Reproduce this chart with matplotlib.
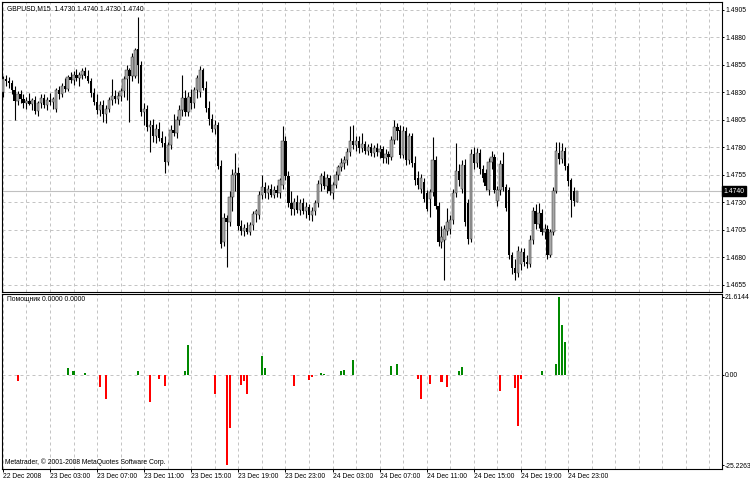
import numpy as np
import matplotlib.pyplot as plt

#font: Arial-like sans for the small MetaTrader labels, DejaVu as fallback
plt.rcParams['font.family'] = ['Liberation Sans', 'DejaVu Sans']

#GBPUSD M15 bars, 22 Dec 2008 23:00 ... 24 Dec 2008 23:45
opens = [1.4830, 1.4842, 1.4840, 1.4838, 1.4832, 1.4822, 1.4828, 1.4824, 1.4820, 1.4822,
         1.4819, 1.4823, 1.4813, 1.4820, 1.4825, 1.4818, 1.4823, 1.4821, 1.4815, 1.4832,
         1.4828, 1.4836, 1.4833, 1.4844, 1.4841, 1.4846, 1.4843, 1.4846, 1.4849, 1.4845,
         1.4840, 1.4829, 1.4821, 1.4814, 1.4818, 1.4810, 1.4815, 1.4823, 1.4827, 1.4824,
         1.4827, 1.4831, 1.4842, 1.4850, 1.4845, 1.4845, 1.4869, 1.4855, 1.4812, 1.4815,
         1.4798, 1.4800, 1.4790, 1.4797, 1.4788, 1.4784, 1.4767, 1.4782, 1.4796, 1.4793,
         1.4805, 1.4814, 1.4825, 1.4812, 1.4826, 1.4820, 1.4832, 1.4830, 1.4850, 1.4834,
         1.4816, 1.4806, 1.4797, 1.4800, 1.4763, 1.4694, 1.4716, 1.4712, 1.4735, 1.4755,
         1.4757, 1.4708, 1.4704, 1.4707, 1.4703, 1.4709, 1.4719, 1.4718, 1.4737, 1.4744,
         1.4738, 1.4742, 1.4737, 1.4741, 1.4738, 1.4746, 1.4786, 1.4754, 1.4729, 1.4724,
         1.4730, 1.4723, 1.4729, 1.4722, 1.4726, 1.4718, 1.4722, 1.4729, 1.4747, 1.4754,
         1.4745, 1.4752, 1.4738, 1.4746, 1.4755, 1.4762, 1.4766, 1.4768, 1.4776, 1.4786,
         1.4782, 1.4786, 1.4779, 1.4783, 1.4777, 1.4780, 1.4775, 1.4779, 1.4776, 1.4778,
         1.4770, 1.4774, 1.4771, 1.4787, 1.4798, 1.4796, 1.4773, 1.4795, 1.4768, 1.4790,
         1.4766, 1.4752, 1.4742, 1.4748, 1.4738, 1.4733, 1.4739, 1.4768, 1.4727, 1.4694,
         1.4696, 1.4704, 1.4706, 1.4714, 1.4738, 1.4758, 1.4742, 1.4764, 1.4729, 1.4697,
         1.4774, 1.4766, 1.4775, 1.4760, 1.4757, 1.4741, 1.4767, 1.4771, 1.4731, 1.4741,
         1.4765, 1.4744, 1.4741, 1.4682, 1.4670, 1.4666, 1.4674, 1.4685, 1.4676, 1.4674,
         1.4696, 1.4722, 1.4710, 1.4720, 1.4703, 1.4706, 1.4682, 1.4703, 1.4740, 1.4775,
         1.4769, 1.4777, 1.4763, 1.4750, 1.4740, 1.4730]
highs = [1.4845, 1.4846, 1.4844, 1.4841, 1.4836, 1.4831, 1.4832, 1.4828, 1.4826, 1.4829,
         1.4825, 1.4827, 1.4822, 1.4828, 1.4828, 1.4826, 1.4829, 1.4826, 1.4834, 1.4836,
         1.4838, 1.4843, 1.4846, 1.4848, 1.4849, 1.4851, 1.4848, 1.4852, 1.4853, 1.4850,
         1.4843, 1.4834, 1.4828, 1.4822, 1.4823, 1.4818, 1.4826, 1.4842, 1.4832, 1.4830,
         1.4834, 1.4845, 1.4855, 1.4852, 1.4866, 1.4870, 1.4898, 1.4858, 1.4820, 1.4818,
         1.4805, 1.4806, 1.4801, 1.4803, 1.4795, 1.4790, 1.4785, 1.4800, 1.4810, 1.4808,
         1.4818, 1.4846, 1.4832, 1.4830, 1.4833, 1.4835, 1.4846, 1.4854, 1.4852, 1.4840,
         1.4822, 1.4810, 1.4805, 1.4803, 1.4768, 1.4720, 1.4718, 1.4740, 1.4760, 1.4775,
         1.4762, 1.4714, 1.4710, 1.4712, 1.4712, 1.4722, 1.4724, 1.4740, 1.4755, 1.4748,
         1.4746, 1.4747, 1.4745, 1.4746, 1.4752, 1.4799, 1.4790, 1.4758, 1.4740, 1.4734,
         1.4737, 1.4733, 1.4734, 1.4730, 1.4728, 1.4726, 1.4732, 1.4750, 1.4757, 1.4758,
         1.4756, 1.4755, 1.4748, 1.4758, 1.4764, 1.4770, 1.4772, 1.4779, 1.4799, 1.4800,
         1.4790, 1.4790, 1.4793, 1.4786, 1.4783, 1.4784, 1.4782, 1.4784, 1.4782, 1.4781,
         1.4778, 1.4777, 1.4790, 1.4805, 1.4802, 1.4800, 1.4799, 1.4798, 1.4793, 1.4793,
         1.4772, 1.4758, 1.4756, 1.4752, 1.4741, 1.4742, 1.4789, 1.4772, 1.4730, 1.4708,
         1.4709, 1.4725, 1.4718, 1.4742, 1.4784, 1.4765, 1.4768, 1.4769, 1.4733, 1.4778,
         1.4780, 1.4779, 1.4778, 1.4764, 1.4760, 1.4770, 1.4777, 1.4774, 1.4745, 1.4768,
         1.4776, 1.4747, 1.4744, 1.4685, 1.4678, 1.4690, 1.4688, 1.4688, 1.4682, 1.4700,
         1.4726, 1.4728, 1.4729, 1.4724, 1.4710, 1.4709, 1.4706, 1.4744, 1.4785, 1.4785,
         1.4784, 1.4780, 1.4766, 1.4752, 1.4744, 1.4740]
lows = [1.4826, 1.4836, 1.4834, 1.4828, 1.4805, 1.4818, 1.4820, 1.4816, 1.4815, 1.4818,
        1.4814, 1.4810, 1.4808, 1.4816, 1.4816, 1.4814, 1.4818, 1.4815, 1.4812, 1.4824,
        1.4826, 1.4830, 1.4831, 1.4838, 1.4837, 1.4840, 1.4836, 1.4842, 1.4843, 1.4838,
        1.4826, 1.4818, 1.4810, 1.4808, 1.4803, 1.4802, 1.4812, 1.4818, 1.4820, 1.4819,
        1.4822, 1.4826, 1.4823, 1.4803, 1.4840, 1.4843, 1.4838, 1.4808, 1.4800, 1.4795,
        1.4776, 1.4785, 1.4784, 1.4786, 1.4780, 1.4757, 1.4764, 1.4778, 1.4790, 1.4788,
        1.4800, 1.4808, 1.4808, 1.4808, 1.4815, 1.4816, 1.4825, 1.4826, 1.4832, 1.4812,
        1.4800, 1.4794, 1.4792, 1.4760, 1.4688, 1.4690, 1.4671, 1.4708, 1.4722, 1.4740,
        1.4705, 1.4700, 1.4699, 1.4701, 1.4700, 1.4705, 1.4712, 1.4715, 1.4733, 1.4734,
        1.4733, 1.4735, 1.4734, 1.4735, 1.4734, 1.4742, 1.4750, 1.4726, 1.4718, 1.4718,
        1.4720, 1.4718, 1.4719, 1.4716, 1.4714, 1.4713, 1.4718, 1.4726, 1.4740, 1.4742,
        1.4738, 1.4737, 1.4733, 1.4743, 1.4750, 1.4758, 1.4760, 1.4764, 1.4772, 1.4778,
        1.4777, 1.4775, 1.4776, 1.4774, 1.4773, 1.4772, 1.4771, 1.4772, 1.4770, 1.4766,
        1.4766, 1.4765, 1.4768, 1.4783, 1.4787, 1.4770, 1.4770, 1.4764, 1.4765, 1.4762,
        1.4746, 1.4742, 1.4738, 1.4730, 1.4722, 1.4717, 1.4736, 1.4724, 1.4690, 1.4688,
        1.4659, 1.4700, 1.4701, 1.4710, 1.4735, 1.4745, 1.4738, 1.4708, 1.4692, 1.4694,
        1.4760, 1.4762, 1.4756, 1.4748, 1.4741, 1.4737, 1.4760, 1.4738, 1.4727, 1.4737,
        1.4740, 1.4722, 1.4678, 1.4665, 1.4659, 1.4662, 1.4668, 1.4672, 1.4670, 1.4671,
        1.4692, 1.4706, 1.4707, 1.4700, 1.4697, 1.4678, 1.4680, 1.4700, 1.4738, 1.4765,
        1.4766, 1.4759, 1.4745, 1.4717, 1.4727, 1.4730]
closes = [1.4842, 1.4840, 1.4838, 1.4832, 1.4822, 1.4828, 1.4824, 1.4820, 1.4822, 1.4819,
          1.4823, 1.4813, 1.4820, 1.4825, 1.4818, 1.4823, 1.4821, 1.4824, 1.4832, 1.4828,
          1.4836, 1.4833, 1.4844, 1.4841, 1.4846, 1.4843, 1.4846, 1.4849, 1.4845, 1.4840,
          1.4829, 1.4821, 1.4814, 1.4818, 1.4810, 1.4815, 1.4823, 1.4827, 1.4824, 1.4827,
          1.4831, 1.4842, 1.4850, 1.4845, 1.4862, 1.4868, 1.4855, 1.4812, 1.4815, 1.4798,
          1.4800, 1.4790, 1.4797, 1.4788, 1.4784, 1.4767, 1.4782, 1.4796, 1.4793, 1.4805,
          1.4814, 1.4825, 1.4812, 1.4826, 1.4820, 1.4832, 1.4843, 1.4850, 1.4834, 1.4816,
          1.4806, 1.4797, 1.4800, 1.4763, 1.4692, 1.4716, 1.4712, 1.4735, 1.4755, 1.4757,
          1.4708, 1.4704, 1.4707, 1.4703, 1.4709, 1.4719, 1.4722, 1.4737, 1.4744, 1.4738,
          1.4742, 1.4737, 1.4741, 1.4738, 1.4750, 1.4786, 1.4754, 1.4729, 1.4724, 1.4730,
          1.4723, 1.4729, 1.4722, 1.4726, 1.4718, 1.4722, 1.4729, 1.4747, 1.4754, 1.4745,
          1.4752, 1.4740, 1.4746, 1.4755, 1.4762, 1.4766, 1.4768, 1.4776, 1.4786, 1.4782,
          1.4786, 1.4779, 1.4783, 1.4777, 1.4780, 1.4775, 1.4779, 1.4776, 1.4778, 1.4770,
          1.4774, 1.4771, 1.4787, 1.4798, 1.4795, 1.4773, 1.4795, 1.4768, 1.4790, 1.4766,
          1.4750, 1.4746, 1.4752, 1.4733, 1.4724, 1.4739, 1.4768, 1.4727, 1.4694, 1.4698,
          1.4706, 1.4712, 1.4714, 1.4738, 1.4758, 1.4750, 1.4764, 1.4712, 1.4697, 1.4774,
          1.4766, 1.4775, 1.4760, 1.4752, 1.4745, 1.4767, 1.4771, 1.4741, 1.4741, 1.4765,
          1.4744, 1.4725, 1.4682, 1.4670, 1.4666, 1.4686, 1.4685, 1.4676, 1.4674, 1.4696,
          1.4722, 1.4710, 1.4720, 1.4703, 1.4706, 1.4682, 1.4703, 1.4740, 1.4777, 1.4769,
          1.4777, 1.4763, 1.4749, 1.4732, 1.4731, 1.4740]

#"Pomoshnik" histogram: bar number and value (bars not listed are zero)
helper_bars = [5, 22, 24, 28, 33, 35, 46, 50, 53, 55,
               62, 63, 72, 76, 77, 81, 82, 83, 88, 89,
               99, 104, 105, 108, 109, 115, 116, 119, 132, 134,
               141, 142, 145, 149, 151, 155, 156, 169, 174, 175,
               176, 183, 188, 189, 190, 191]
helper_vals = [-1.9, 1.8, 0.85, 0.3, -3.6, -6.7, 1.1, -7.6, -1.3, -3.3,
               1.1, 8.2, -5.5, -25.2263, -15.0, -3.0, -1.9, -5.5, 5.1, 1.9,
               -3.3, -1.5, -0.8, 0.5, 0.1, 1.1, 1.3, 4.1, 2.4, 2.8,
               -1.2, -6.9, -2.7, -2.0, -3.6, 1.1, 2.2, -4.7, -3.8, -14.4,
               -1.2, 0.85, 2.8, 21.6144, 13.7, 9.2]

price_ticks = [1.4905, 1.4880, 1.4855, 1.4830, 1.4805, 1.4780, 1.4755, 1.4730, 1.4705, 1.4680, 1.4655]
time_ticks = [0, 16, 32, 48, 64, 80, 96, 112, 128, 144, 160, 176, 192]
time_labels = ['22 Dec 2008', '23 Dec 03:00', '23 Dec 07:00', '23 Dec 11:00', '23 Dec 15:00',
               '23 Dec 19:00', '23 Dec 23:00', '24 Dec 03:00', '24 Dec 07:00', '24 Dec 11:00',
               '24 Dec 15:00', '24 Dec 19:00', '24 Dec 23:00']
last_price = 1.4740
helper_max = 21.6144
helper_min = -25.2263

FS = 4.9
GRID = '#c4c4c4'


def style_axis(ax):
    #black frame, dashed grid every 2 hours, empty space on the right like MT4
    for s in ax.spines.values():
        s.set_color('black')
        s.set_linewidth(0.8)
    ax.set_xlim(-0.3, 244.3)
    ax.set_xticks(np.arange(0, 245, 8), minor=True)
    ax.grid(True, which='both', axis='x', color=GRID, linestyle=(0, (3, 3)), linewidth=0.72)
    ax.yaxis.tick_right()
    ax.tick_params(axis='y', direction='out', length=1.6, width=0.7, pad=0.6, labelsize=FS)
    ax.tick_params(axis='x', which='minor', length=0)


fig = plt.figure(figsize=(7.5, 4.82), dpi=100)
ax = fig.add_axes([2 / 750, 190 / 482, 720 / 750, 290 / 482])
ax2 = fig.add_axes([2 / 750, 13 / 482, 720 / 750, 175 / 482])

#candles
o = np.array(opens)
h = np.array(highs)
l = np.array(lows)
c = np.array(closes)
x = np.arange(len(c))
up = c >= o
ax.vlines(x, l, h, color='black', linewidth=0.8, zorder=3)
bottom = np.minimum(o, c)
height = np.maximum(np.abs(c - o), 0.00006)
ax.bar(x[up], height[up], width=0.8, bottom=bottom[up], color='#a8a8a8', edgecolor='#303030',
       linewidth=0.35, zorder=4)
ax.bar(x[~up], height[~up], width=0.8, bottom=bottom[~up], color='black', edgecolor='none', zorder=4)

ax.axhline(last_price, color='#c0c0c0', linewidth=0.8, zorder=1)
style_axis(ax)
ax.set_ylim(1.46484, 1.49120)
ax.set_yticks(price_ticks)
ax.set_yticklabels(['%.4f' % p for p in price_ticks])
ax.set_xticks(time_ticks)
ax.tick_params(axis='x', which='major', length=0, labelbottom=False)
ax.grid(True, axis='y', color=GRID, linestyle=(0, (3, 3)), linewidth=0.72)
ax.set_axisbelow(True)

#current price box on the scale
ax.text(1.0 + 1.5 / 720, last_price, '1.4740', transform=ax.get_yaxis_transform(),
        fontsize=FS, color='white', va='center', ha='left',
        bbox=dict(boxstyle='square,pad=0.2', fc='black', ec='black'))

ax.text(5 / 720, 0.979, 'GBPUSD,M15  1.4730 1.4740 1.4730 1.4740', transform=ax.transAxes,
        fontsize=FS, va='center', ha='left')

#indicator window
hb = np.array(helper_bars)
hv = np.array(helper_vals)
ax2.bar(hb[hv > 0], hv[hv > 0], width=0.7, color='#008800', zorder=3)
ax2.bar(hb[hv < 0], hv[hv < 0], width=0.7, color='#ff0000', zorder=3)
ax2.axhline(0, color=GRID, linestyle=(0, (3, 3)), linewidth=0.72, zorder=1)
style_axis(ax2)
ax2.set_ylim(-26.34, 22.45)
ax2.set_yticks([helper_max, 0, helper_min])
ax2.set_yticklabels(['21.6144', '0.00', '-25.2263'])
ax2.set_xticks(time_ticks)
ax2.set_xticklabels(time_labels, ha='left')
ax2.tick_params(axis='x', which='major', direction='out', length=2.2, width=0.7, pad=0.8, labelsize=FS)

ax2.text(5 / 720, 0.966, 'Помощник 0.0000 0.0000', transform=ax2.transAxes,
         fontsize=FS, va='center', ha='left')
ax2.text(3 / 720, 0.04, 'Metatrader, © 2001-2008 MetaQuotes Software Corp.', transform=ax2.transAxes,
         fontsize=FS, va='center', ha='left')

fig.savefig('out.png', dpi=100)
